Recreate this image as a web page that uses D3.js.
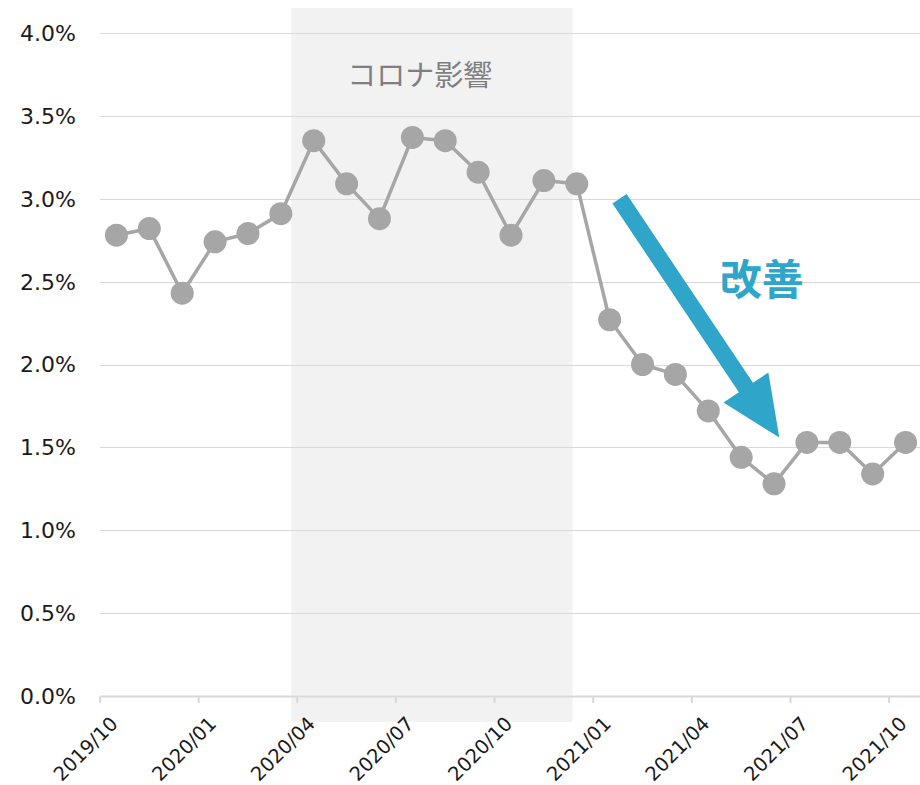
<!DOCTYPE html>
<html>
<head>
<meta charset="utf-8">
<script src="https://cdn.jsdelivr.net/npm/d3@7/dist/d3.min.js"></script>
<style>
  html, body { margin: 0; padding: 0; background: #fff; }
  svg { display: block; }
</style>
</head>
<body>
<svg id="chart" width="920" height="785"></svg>
<script>
// Monthly rate, 2019/10 – 2021/10
const months = [
  "2019/10","2019/11","2019/12","2020/01","2020/02","2020/03","2020/04","2020/05","2020/06",
  "2020/07","2020/08","2020/09","2020/10","2020/11","2020/12","2021/01","2021/02","2021/03",
  "2021/04","2021/05","2021/06","2021/07","2021/08","2021/09","2021/10"
];
const rates = [
  2.78, 2.82, 2.43, 2.74, 2.79, 2.91, 3.35, 3.09, 2.88,
  3.37, 3.35, 3.16, 2.78, 3.11, 3.09, 2.27, 2.00, 1.94,
  1.72, 1.44, 1.28, 1.53, 1.53, 1.34, 1.53
];
const yTicks = [0, 0.5, 1.0, 1.5, 2.0, 2.5, 3.0, 3.5, 4.0];
const xTickLabels = ["2019/10","2020/01","2020/04","2020/07","2020/10","2021/01","2021/04","2021/07","2021/10"];
const covidLabel = "コロナ影響";
const improveLabel = "改善";

const svg = d3.select("#chart");
const plotLeft = 100, plotRight = 922, plotTop = 33, plotBottom = 696;

const x = d3.scaleBand().domain(months).range([plotLeft, plotRight]).padding(0);
const y = d3.scaleLinear().domain([0, 4]).range([plotBottom, plotTop]);
// continuous month-index scale for annotations that sit between months
const xi = d3.scaleLinear().domain([0, months.length]).range([plotLeft, plotRight]);
const cx = m => x(m) + x.bandwidth() / 2;

// shaded COVID period
svg.append("rect")
  .attr("x", xi(5.82)).attr("width", xi(14.37) - xi(5.82))
  .attr("y", 8).attr("height", 722 - 8)
  .attr("fill", "#f2f2f2");

// horizontal gridlines
svg.append("g").selectAll("line").data(yTicks.slice(1)).join("line")
  .attr("x1", plotLeft).attr("x2", 920)
  .attr("y1", d => Math.round(y(d)) + 0.5).attr("y2", d => Math.round(y(d)) + 0.5)
  .attr("stroke", "#d9d9d9").attr("stroke-width", 1.2);

// y axis labels
svg.append("g").selectAll("text").data(yTicks).join("text")
  .attr("x", 76).attr("y", d => y(d))
  .attr("dy", "0.36em")
  .attr("text-anchor", "end")
  .attr("font-family", "DejaVu Sans, Verdana, sans-serif")
  .attr("font-size", 22).attr("fill", "#1a1a1a")
  .text(d => d.toFixed(1) + "%");

// x axis
const xAxis = svg.append("g");
xAxis.append("line")
  .attr("x1", plotLeft).attr("x2", 920)
  .attr("y1", plotBottom + 0.5).attr("y2", plotBottom + 0.5)
  .attr("stroke", "#d9d9d9").attr("stroke-width", 2);
xAxis.selectAll("line.tick").data(xTickLabels).join("line")
  .attr("class", "tick")
  .attr("x1", d => x(d)).attr("x2", d => x(d))
  .attr("y1", plotBottom).attr("y2", plotBottom + 7)
  .attr("stroke", "#d9d9d9").attr("stroke-width", 2);
xAxis.selectAll("text").data(xTickLabels).join("text")
  .attr("transform", d => `translate(${x(d) + 19},${plotBottom + 29}) rotate(-45)`)
  .attr("text-anchor", "end")
  .attr("font-family", "DejaVu Sans, Verdana, sans-serif")
  .attr("font-size", 19.5).attr("fill", "#1a1a1a")
  .text(d => d);

// COVID label
svg.append("text")
  .attr("x", xi(10) - 9).attr("y", 86)
  .attr("text-anchor", "middle")
  .attr("font-family", "Noto Sans CJK JP, sans-serif")
  .attr("font-size", 29).attr("fill", "#7f7f7f")
  .text(covidLabel);

// data line and markers
const line = d3.line().x((d, i) => cx(months[i])).y(d => y(d));
svg.append("path").datum(rates)
  .attr("d", line)
  .attr("fill", "none")
  .attr("stroke", "#a6a6a6").attr("stroke-width", 3.5)
  .attr("stroke-linejoin", "round");
svg.append("g").selectAll("circle").data(rates).join("circle")
  .attr("cx", (d, i) => cx(months[i])).attr("cy", d => y(d))
  .attr("r", 11.5).attr("fill", "#a6a6a6");

// improvement arrow
const ax0 = xi(15.8), ay0 = y(3.0);
const ax1 = xi(20.66), ay1 = y(1.56);
const ang = Math.atan2(ay1 - ay0, ax1 - ax0);
const headLen = 60, headHalf = 27, shaftHalf = 8.5;
const ux = Math.cos(ang), uy = Math.sin(ang), px = -uy, py = ux;
const bx = ax1 - ux * headLen, by = ay1 - uy * headLen;
const arrowPts = [
  [ax0 + px * shaftHalf, ay0 + py * shaftHalf],
  [bx + px * shaftHalf, by + py * shaftHalf],
  [bx + px * headHalf, by + py * headHalf],
  [ax1, ay1],
  [bx - px * headHalf, by - py * headHalf],
  [bx - px * shaftHalf, by - py * shaftHalf],
  [ax0 - px * shaftHalf, ay0 - py * shaftHalf]
];
svg.append("path")
  .attr("d", "M" + arrowPts.map(p => p.join(",")).join("L") + "Z")
  .attr("fill", "#2ea5c9");

svg.append("text")
  .attr("x", xi(20.13)).attr("y", 295)
  .attr("text-anchor", "middle")
  .attr("font-family", "Noto Sans CJK JP, sans-serif")
  .attr("font-weight", "bold")
  .attr("font-size", 42).attr("fill", "#2ea5c9")
  .text(improveLabel);
</script>
</body>
</html>
